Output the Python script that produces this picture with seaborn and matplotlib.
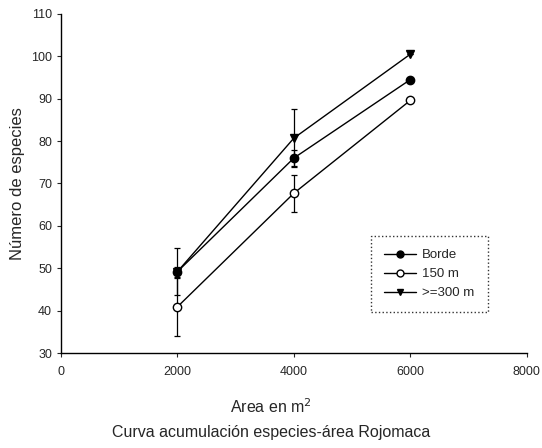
import matplotlib
matplotlib.use("Agg")
import matplotlib.pyplot as plt
import seaborn as sns
import pandas as pd
from matplotlib.lines import Line2D

area = [2000, 4000, 6000]
borde = [49.2, 76.0, 94.5]
m150 = [40.9, 67.7, 89.6]
m300 = [49.2, 80.7, 100.5]
err_borde = [1.2, 1.8, 0.0]
err_150 = [6.9, 4.35, 0.0]
err_300 = [5.5, 6.9, 0.0]
series_names = ["Borde", "150 m", ">=300 m"]

sns.set_theme(style="ticks")
plt.rcParams['font.family'] = ['Liberation Sans', 'DejaVu Sans']

fig = plt.figure(figsize=(5.42, 4.48), dpi=100)
ax = fig.add_axes([0.1125, 0.212, 0.8595, 0.757])

styles = [("o", "black"), ("o", "white"), ("v", "black")]
for vals, errs, name, (mk, fc) in zip([borde, m150, m300],
                                      [err_borde, err_150, err_300],
                                      series_names, styles):
    ax.errorbar(area, vals, yerr=errs, fmt="none", ecolor="black",
                elinewidth=0.9, capsize=2.5, capthick=0.9, zorder=2)
    d = pd.DataFrame({"area": area, "n": vals})
    sns.lineplot(data=d, x="area", y="n", color="black", marker=mk,
                 linewidth=1.0, markersize=6, ax=ax, zorder=3, legend=False)
    ln = ax.get_lines()[-1]
    ln.set_markerfacecolor(fc)
    ln.set_markeredgecolor("black")
    ln.set_markeredgewidth(1.0)

handles = [Line2D([], [], color="black", lw=1.0, marker=mk, mfc=fc,
                  mec="black", ms=5) for mk, fc in styles]
leg = ax.legend(handles, series_names, loc="upper left",
                bbox_to_anchor=(0.665, 0.345), frameon=True, fancybox=False,
                fontsize=9.5, handlelength=2.4, borderpad=1.0, labelspacing=0.5,
                handletextpad=0.5, borderaxespad=0)
leg.get_frame().set_edgecolor("black")
leg.get_frame().set_linestyle(":")
leg.get_frame().set_linewidth(1.0)

ax.set_xlim(0, 8000)
ax.set_ylim(30, 110)
ax.set_xticks([0, 2000, 4000, 6000, 8000])
ax.set_yticks(list(range(30, 111, 10)))
ax.tick_params(axis="both", labelsize=9, length=3, width=0.8, direction="out")
ax.tick_params(axis="x", pad=6)
sns.despine(ax=ax)
for s in ["left", "bottom"]:
    ax.spines[s].set_linewidth(1.0)
    ax.spines[s].set_color("black")

ax.set_ylabel("Número de especies", fontsize=12)
ax.yaxis.set_label_coords(-0.077, 0.5)
ax.set_xlabel("")
fig.text(0.5, 1 - 413 / 448, "Area en m$^2$", ha="center", va="baseline",
         fontsize=11.5)
fig.text(0.5, 1 - 437 / 448, "Curva acumulación especies-área Rojomaca",
         ha="center", va="baseline", fontsize=11.5)

fig.savefig("out.png", dpi=100)
